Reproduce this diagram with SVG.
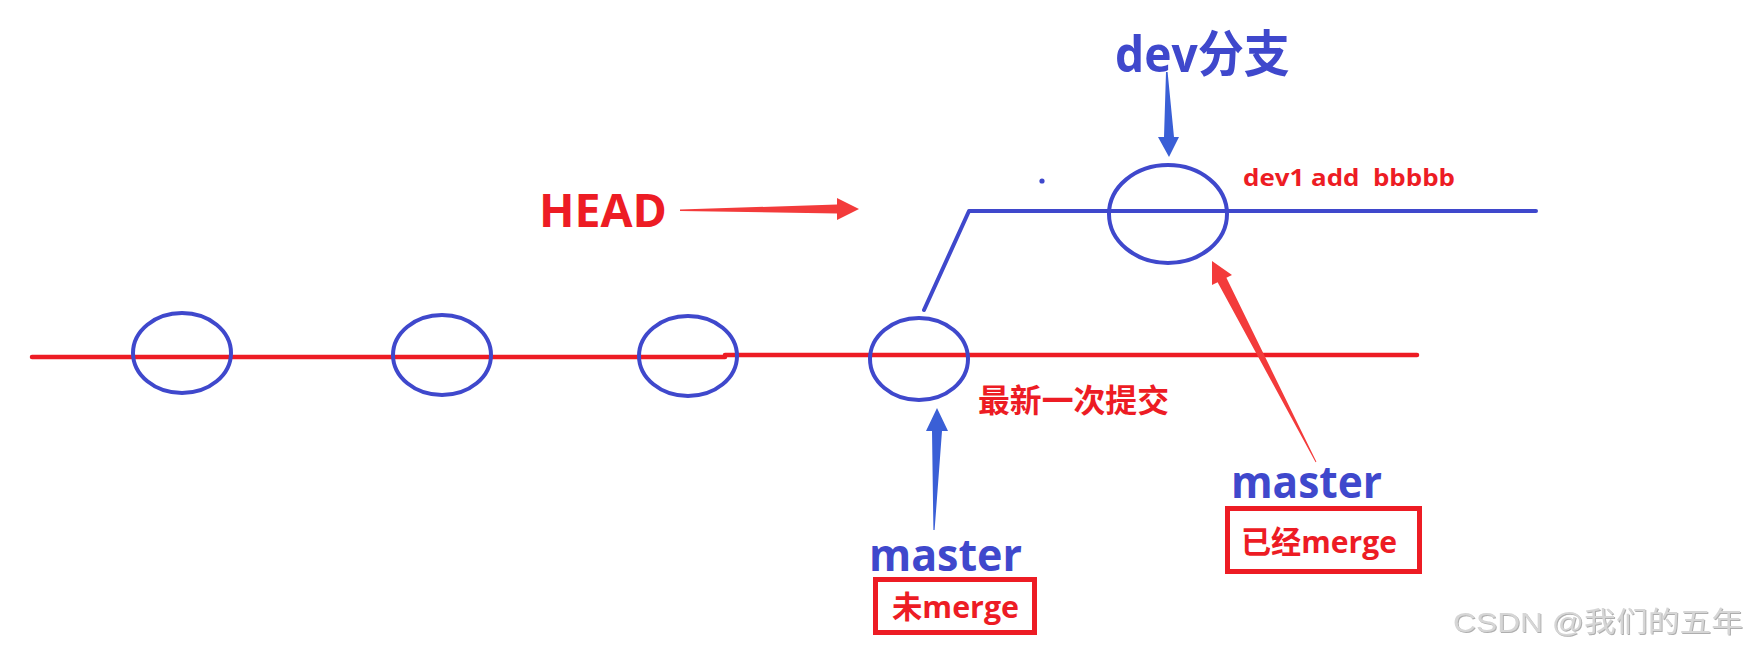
<svg xmlns="http://www.w3.org/2000/svg" width="1759" height="652" viewBox="0 0 1759 652">
<style>
.commit{fill:none;stroke:#3f48cc;stroke-width:4}
.mline{fill:none;stroke:#ed1c24;stroke-width:4.5;stroke-linecap:round}
.dline{fill:none;stroke:#3f48cc;stroke-width:4;stroke-linecap:round;stroke-linejoin:round}
.t{font-family:"Open Sans","Noto Sans CJK SC",sans-serif;font-weight:bold;white-space:pre}
.red{fill:#ed1c24}
.blue{fill:#3f48cc}
.box{fill:none;stroke:#ed1c24;stroke-width:5}
.rarrow{fill:#f33b3b}
.barrow{fill:#3a5fd6}
.wm{font-family:"Liberation Sans","Noto Sans CJK SC",sans-serif;font-size:28px;fill:#d6d6d6}
</style>
<defs>
<filter id="emb" x="-5%" y="-20%" width="110%" height="140%">
<feDropShadow dx="1" dy="1" stdDeviation="0.6" flood-color="#9a9a9a" flood-opacity="0.8"/>
</filter>
</defs>
<rect width="1759" height="652" fill="#ffffff"/>
<g id="connectors">
<line class="mline" x1="32" y1="357" x2="725" y2="357"/>
<line class="mline" x1="725" y1="355" x2="1417" y2="355"/>
<polyline class="dline" points="924,310 969,211 1536,211"/>
<circle cx="1042" cy="181" r="2.6" fill="#3f48cc"/>
<polygon id="head-arrow" class="rarrow" points="680,209.5 837,204.5 837,198 859,209 837,220 837,213.5 680,211"/>
<polygon id="dev-arrow" class="barrow" points="1166,72 1167.6,72 1174,137 1179,137 1169,157 1158,137 1164,137"/>
<polygon id="master1-arrow" class="barrow" points="937,408 948,431 942,431 934.6,530 933.4,530 932,431 926,431"/>
<polygon id="master2-arrow" class="rarrow" points="1212,261 1232,275 1226.4,277.7 1316.4,461.8 1315.6,462.2 1217.6,282.3 1212,285"/>
</g>
<g id="commit1"><ellipse class="commit" cx="182" cy="353" rx="49" ry="40"/></g>
<g id="commit2"><ellipse class="commit" cx="442" cy="355" rx="49" ry="40"/></g>
<g id="commit3"><ellipse class="commit" cx="688" cy="356" rx="49" ry="40"/></g>
<g id="commit4"><ellipse class="commit" cx="919" cy="359" rx="49" ry="41"/>
<text class="t red" x="978" y="412" font-size="32" textLength="191" lengthAdjust="spacingAndGlyphs">最新一次提交</text></g>
<g id="dev-commit"><ellipse class="commit" cx="1168" cy="214" rx="59" ry="49"/>
<text class="t red" x="1243" y="186" font-size="23" textLength="212" lengthAdjust="spacingAndGlyphs">dev1 add  bbbbb</text></g>
<g id="head-label"><text class="t red" x="539" y="227" font-size="46" textLength="128" lengthAdjust="spacingAndGlyphs">HEAD</text></g>
<g id="dev-label"><text class="t blue" x="1115" y="72" font-size="50" textLength="175" lengthAdjust="spacingAndGlyphs">dev分支</text></g>
<g id="master-unmerged">
<text class="t blue" x="869" y="571" font-size="44" textLength="153" lengthAdjust="spacingAndGlyphs">master</text>
<rect class="box" x="875.5" y="579.5" width="159" height="53"/>
<text class="t red" x="892" y="618" font-size="31" textLength="127" lengthAdjust="spacingAndGlyphs">未merge</text>
</g>
<g id="master-merged">
<text class="t blue" x="1231" y="498" font-size="44" textLength="151" lengthAdjust="spacingAndGlyphs">master</text>
<rect class="box" x="1227.5" y="508.5" width="192" height="63"/>
<text class="t red" x="1241" y="553" font-size="31" textLength="156" lengthAdjust="spacingAndGlyphs">已经merge</text>
</g>
<g id="watermark"><text class="wm" x="1453" y="632" textLength="290" lengthAdjust="spacingAndGlyphs" filter="url(#emb)">CSDN @我们的五年</text></g>
</svg>
